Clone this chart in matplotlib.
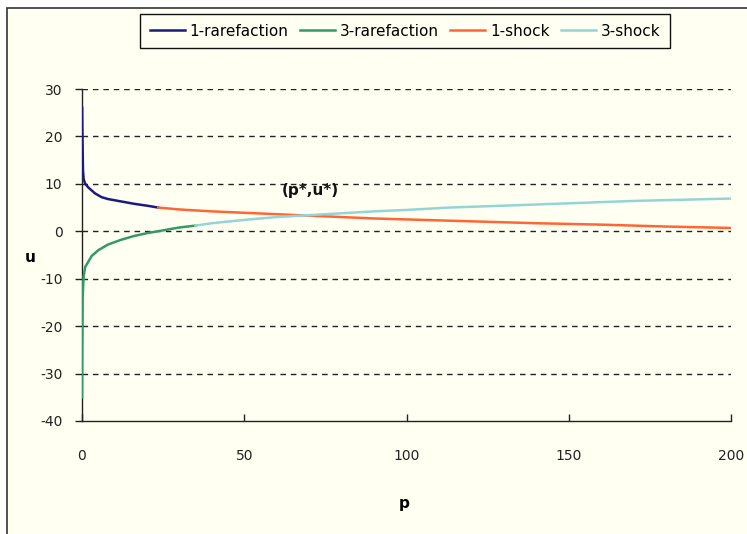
import matplotlib
matplotlib.use("Agg")
import matplotlib.pyplot as plt
from matplotlib.patches import Rectangle

plt.rcParams["axes.unicode_minus"] = False

# Wave curves in the (p, u) plane
rare1_p = [0.05, 0.1, 0.3, 0.5, 1, 2, 4, 6, 8, 12, 16, 20, 23.5]
rare1_u = [26, 22, 13, 11, 10, 9.2, 8.0, 7.2, 6.8, 6.3, 5.8, 5.4, 5.0]

rare3_p = [0.02, 0.05, 0.2, 0.5, 1, 3, 5, 8, 12, 16, 20, 25, 30, 35]
rare3_u = [-35, -28, -14, -9.5, -7.5, -5.2, -4.0, -2.8, -1.8, -1.0, -0.4, 0.2, 0.8, 1.2]

shock1_p = [23.5, 30, 40, 50, 60, 70, 80, 90, 100, 120, 140, 160, 180, 200]
shock1_u = [5.0, 4.6, 4.2, 3.9, 3.6, 3.3, 3.0, 2.7, 2.5, 2.1, 1.7, 1.4, 1.0, 0.7]

shock3_p = [35, 40, 50, 60, 70, 80, 90, 100, 113, 130, 150, 170, 200]
shock3_u = [1.2, 1.7, 2.4, 3.0, 3.4, 3.8, 4.2, 4.5, 5.0, 5.4, 5.9, 6.4, 6.9]

y_ticks = [-40, -30, -20, -10, 0, 10, 20, 30]
x_ticks = [0, 50, 100, 150, 200]

cream = "#FFFFF2"
W, H = 747, 534

fig = plt.figure(figsize=(W / 100, H / 100), dpi=100)
fig.patch.set_facecolor("white")
fig.patches.append(Rectangle((7 / W, -0.01), 1.0, 1 - 8 / H + 0.01,
                             transform=fig.transFigure, facecolor=cream,
                             edgecolor="#333333", linewidth=1.2, zorder=-10))

ax = fig.add_axes([82 / W, 1 - 421 / H, (731 - 82) / W, (421 - 89) / H])
ax.set_facecolor(cream)

ax.plot(rare1_p, rare1_u, color="#1A1A80", lw=1.8, label="1-rarefaction", zorder=3)
ax.plot(rare3_p, rare3_u, color="#339966", lw=1.8, label="3-rarefaction", zorder=3)
ax.plot(shock1_p, shock1_u, color="#FF6633", lw=1.8, label="1-shock", zorder=3)
ax.plot(shock3_p, shock3_u, color="#93D5D7", lw=1.8, label="3-shock", zorder=3)

ax.set_xlim(0, 200)
ax.set_ylim(-40, 30)
ax.set_xticks(x_ticks)
ax.set_yticks(y_ticks)

for y in y_ticks[1:]:
    ax.axhline(y, color="#222222", lw=1.0, linestyle=(0, (4, 3.5)), zorder=1)

for s in ("top", "right"):
    ax.spines[s].set_visible(False)
for s in ("left", "bottom"):
    ax.spines[s].set_color("#222222")
    ax.spines[s].set_linewidth(1.0)

ax.tick_params(axis="y", direction="out", length=5, width=1, pad=9,
               labelsize=10, labelcolor="#222222", color="#222222")
ax.tick_params(axis="x", direction="in", length=5, width=1, pad=20,
               labelsize=10, labelcolor="#222222", color="#222222")

ax.set_xlabel("p", fontsize=11, fontweight="bold")
ax.xaxis.set_label_coords(0.497, (421 - 496) / 332)
ax.set_ylabel("u", fontsize=11, fontweight="bold", rotation=0,
              ha="center", va="center")
ax.yaxis.set_label_coords((30 - 82) / 649, (421 - 257) / 332)

ax.text(70.5, 8.7, "(p*,u*)", fontsize=11, fontweight="bold", ha="center",
        va="center", color="#111111")

leg = fig.legend(loc="center", bbox_to_anchor=(405 / W, 1 - 31 / H), ncol=4,
                 frameon=True, fancybox=False, fontsize=11, handlelength=2.3,
                 handletextpad=0.3, columnspacing=0.75, borderpad=0.65)
leg.get_frame().set_edgecolor("#111111")
leg.get_frame().set_linewidth(1.0)
leg.get_frame().set_facecolor(cream)
leg.get_frame().set_alpha(1)

fig.savefig("out.png", dpi=100, facecolor=fig.get_facecolor())
